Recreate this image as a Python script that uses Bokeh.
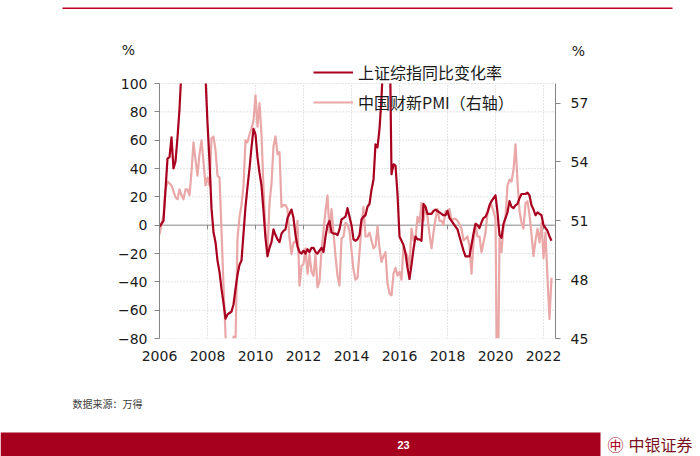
import math
import numpy as np
from bokeh.plotting import figure
from bokeh.models import (Range1d, LinearAxis, FixedTicker, Label, BoxAnnotation,
                          Legend, LegendItem, ColumnDataSource)
from bokeh.embed import file_html
from bokeh.resources import INLINE

# ---------------- data (monthly, Jan 2006 - May 2022) ----------------
start_year = 2006

sse_yoy = [
    -1, 1, 3, 25, 47, 48, 62, 40, 45, 62, 82, 110,          # 2006
    120, 125, 145, 165, 150, 130, 175, 210, 215, 220, 135, 105,  # 2007
    72, 45, 12, -5, -12, -25, -33, -45, -55, -66, -63, -62,  # 2008
    -61, -56, -45, -35, -28, -25, -6, 13, 27, 40, 55, 68,    # 2009
    64, 48, 37, 28, 10, -9, -22, -16, -12, -3, -7, -10,      # 2010
    -12, -6, -4, -3, 5, 8, 11, 5, -7, -15, -19, -20,         # 2011
    -18, -20, -17, -19, -16, -16, -19, -20, -18, -16, -19, -8,  # 2012
    0, 3, -5, -6, -6, -7, -3, 4, 5, 6, 12, 6,                # 2013
    0, -10, -11, -10, -7, 4, 6, 7, 13, 15, 25, 32,           # 2014
    57, 55, 68, 90, 120, 140, 150, 150, 36, 43, 42, 22,      # 2015
    -8, -11, -14, -20, -30, -38, -28, -17, -8, -10, -10, -11,  # 2016
    15, 13, 8, 8, 8, 10, 11, 10, 9, 8, 7, 7,                 # 2017
    10, 5, 3, 1, -1, -3, -8, -13, -18, -22, -22, -22,        # 2018
    -14, -6, 1, 0, -2, 2, 5, 6, 9, 14, 17, 19,               # 2019
    21, 9, -7, -9, 1, 5, 9, 17, 13, 12, 14, 15,              # 2020
    19, 22, 22, 22, 23, 21, 14, 11, 7, 9, 8, 7,              # 2021
    0, -2, -4, -8, -11,                                      # 2022
]

caixin_pmi = [
    50.3, 50.8, 51.3, 52.6, 53.0, 52.9, 52.8, 52.5, 52.2, 52.1, 52.6, 52.3,  # 2006
    52.1, 52.6, 52.6, 52.3, 53.5, 55.0, 54.1, 53.3, 54.4, 55.1, 54.0, 52.8,  # 2007
    53.2, 52.8, 55.2, 55.3, 54.6, 53.3, 53.2, 50.5, 47.7, 45.2, 40.9, 41.2,  # 2008
    42.2, 45.1, 44.8, 50.1, 51.2, 51.8, 52.8, 55.1, 55.0, 55.4, 55.7, 56.1,  # 2009
    57.4, 55.8, 57.0, 55.4, 52.7, 50.4, 49.4, 51.9, 52.9, 54.8, 55.3, 54.4,  # 2010
    54.5, 51.7, 51.8, 51.8, 51.6, 50.1, 49.3, 49.9, 49.9, 51.0, 47.7, 48.7,  # 2011
    48.8, 49.6, 48.3, 49.3, 48.4, 48.2, 49.3, 47.6, 47.9, 49.5, 50.5, 51.5,  # 2012
    52.3, 50.4, 51.6, 50.4, 49.2, 48.2, 47.7, 50.1, 50.2, 50.9, 50.8, 50.5,  # 2013
    49.5, 48.5, 48.0, 48.1, 49.4, 50.7, 51.7, 50.2, 50.2, 50.4, 50.0, 49.6,  # 2014
    49.7, 50.7, 49.6, 48.9, 49.2, 49.4, 47.8, 47.3, 47.2, 48.3, 48.6, 48.2,  # 2015
    48.4, 48.0, 49.7, 49.4, 49.2, 48.6, 50.6, 50.0, 50.1, 51.2, 50.9, 51.9,  # 2016
    51.0, 51.7, 51.2, 50.3, 49.6, 50.4, 51.1, 51.6, 51.0, 51.0, 50.8, 51.5,  # 2017
    51.5, 51.6, 51.0, 51.1, 51.1, 51.0, 50.8, 50.6, 50.0, 50.1, 50.2, 49.7,  # 2018
    48.3, 49.9, 50.8, 50.2, 50.2, 49.4, 49.9, 50.4, 51.4, 51.7, 51.8, 51.5,  # 2019
    51.1, 40.3, 50.1, 49.4, 50.7, 51.2, 52.8, 53.1, 53.0, 53.6, 54.9, 53.0,  # 2020
    51.5, 50.9, 50.6, 51.9, 52.0, 51.3, 50.3, 49.2, 50.0, 50.6, 49.9, 50.9,  # 2021
    49.1, 50.4, 48.1, 46.0, 48.1,                                            # 2022
]

x_ticks = [2006, 2008, 2010, 2012, 2014, 2016, 2018, 2020, 2022]
left_ticks = [-80, -60, -40, -20, 0, 20, 40, 60, 80, 100]
right_ticks = [45, 48, 51, 54, 57]

sse_label = "上证综指同比变化率"
pmi_label = "中国财新PMI（右轴）"
source_text = "数据来源：万得"
page_no = "23"
brand = "中银证券"

# ---------------- layout constants (pixels, page coordinates) ----------------
W = 700
TOP_H = 57                 # header strip: rule + unit labels
MAIN_H = 313               # chart strip (page y 57 .. 370)
FOOT_H = 456 - TOP_H - MAIN_H
PLOT_L, PLOT_R = 159, 555  # plot area left / right
PLOT_T, PLOT_B = 83, 338   # y of 100 and of -80
LEFT_MIN, LEFT_MAX = -80.0, 100.0
RIGHT_MIN, RIGHT_MAX = 45.0, 58.0
X_START, X_END = 2006.0, 2022.5
LEG_ROW_H = 25             # height Bokeh gives one legend row at 16px CJK
LEG_ROW2_Y = 101.7         # page y of the second legend row's centre

K = (LEFT_MAX - LEFT_MIN) / (PLOT_B - PLOT_T)   # value units per px
KR = (RIGHT_MAX - RIGHT_MIN) / (PLOT_B - PLOT_T)


def clip_polyline(xs, ys, lo, hi):
    """Cut a polyline to the band lo..hi, as a chart plot area does."""
    ox, oy = [], []
    prev_vis = False
    for i in range(len(xs) - 1):
        x0, y0, x1, y1 = xs[i], ys[i], xs[i + 1], ys[i + 1]
        d = y1 - y0
        if d == 0:
            t0, t1 = (0.0, 1.0) if lo <= y0 <= hi else (1.0, 0.0)
        else:
            ta, tb = (lo - y0) / d, (hi - y0) / d
            t0, t1 = max(0.0, min(ta, tb)), min(1.0, max(ta, tb))
        if t0 > t1:
            prev_vis = False
            continue
        ax, ay = x0 + t0 * (x1 - x0), y0 + t0 * d
        bx, by = x0 + t1 * (x1 - x0), y0 + t1 * d
        if not (prev_vis and t0 == 0.0):
            if ox and not math.isnan(ox[-1]):
                ox.append(float("nan"))
                oy.append(float("nan"))
            ox.append(ax)
            oy.append(ay)
        ox.append(bx)
        oy.append(by)
        prev_vis = (t1 == 1.0)
    return np.array(ox, dtype=float), np.array(oy, dtype=float)


# ---------------- styling ----------------
DARK = "#A8001E"
LIGHT = "#EAA7A7"
AXIS = "#868686"
GRID = "#C9C9C9"
TXT = "#1a1a1a"
NUM_FONT = "DejaVu Sans"
CJK_FONT = "Noto Sans CJK SC"


def plain_fig(height):
    f = figure(width=W, height=height, output_backend="svg", toolbar_location=None,
               x_range=Range1d(0, W), y_range=Range1d(0, height),
               x_axis_location=None, y_axis_location=None, min_border=0)
    f.outline_line_color = None
    f.grid.visible = False
    return f


# ---------------- header strip ----------------
top = plain_fig(TOP_H)
top.add_layout(BoxAnnotation(left=62, right=672, top=TOP_H - 7, bottom=TOP_H - 8.6,
                             fill_color="#C0001E", fill_alpha=1, line_color=None))
top.add_layout(Label(x=128, y=TOP_H - 49.5, text="%", text_align="center",
                     text_baseline="middle", text_font=NUM_FONT,
                     text_font_size="14px", text_color=TXT))
top.add_layout(Label(x=578, y=TOP_H - 50, text="%", text_align="center",
                     text_baseline="middle", text_font=NUM_FONT,
                     text_font_size="14px", text_color=TXT))

# ---------------- chart strip ----------------
frame_top_val = LEFT_MAX + (PLOT_T - TOP_H) * K
frame_top_right = RIGHT_MAX + (PLOT_T - TOP_H) * KR

months = [start_year + i / 12.0 for i in range(len(sse_yoy))]
sx, sy = clip_polyline(months, sse_yoy, LEFT_MIN, LEFT_MAX)
px_, py_ = clip_polyline(months, caixin_pmi, RIGHT_MIN, RIGHT_MAX)

p = figure(width=W, height=MAIN_H, output_backend="svg", toolbar_location=None,
           x_range=Range1d(X_START, X_END), y_range=Range1d(LEFT_MIN, frame_top_val),
           x_axis_location=None, y_axis_location=None,
           min_border_left=PLOT_L, min_border_right=W - PLOT_R,
           min_border_top=0, min_border_bottom=MAIN_H - (PLOT_B - TOP_H))
p.extra_y_ranges = {"pmi": Range1d(RIGHT_MIN, frame_top_right)}
p.outline_line_color = None
p.grid.visible = False
p.background_fill_color = "white"
p.border_fill_color = "white"

# dotted grid limited to the plot area
hgrid = [t for t in left_ticks if t != 0]
p.segment(x0=[X_START] * len(hgrid), x1=[X_END] * len(hgrid), y0=hgrid, y1=hgrid,
          line_color=GRID, line_width=1, line_dash="1 2")
vgrid = x_ticks[1:]
p.segment(x0=vgrid, x1=vgrid, y0=[LEFT_MIN] * len(vgrid), y1=[LEFT_MAX] * len(vgrid),
          line_color=GRID, line_width=1, line_dash="1 2")

# zero line with small ticks
p.segment(x0=[X_START], x1=[X_END], y0=[0], y1=[0], line_color=AXIS, line_width=1)
p.segment(x0=vgrid, x1=vgrid, y0=[0] * len(vgrid), y1=[-4 * K] * len(vgrid),
          line_color=AXIS, line_width=1)

# axes
la = LinearAxis(bounds=(LEFT_MIN, LEFT_MAX), ticker=FixedTicker(ticks=left_ticks))
ra = LinearAxis(y_range_name="pmi", bounds=(RIGHT_MIN, RIGHT_MAX),
                ticker=FixedTicker(ticks=right_ticks))
for ax in (la, ra):
    ax.axis_line_color = AXIS
    ax.major_tick_line_color = AXIS
    ax.minor_tick_line_color = None
    ax.major_tick_out = 5
    ax.major_tick_in = 0
    ax.major_label_text_font = NUM_FONT
    ax.major_label_text_font_size = "14px"
    ax.major_label_text_color = TXT
la.major_label_standoff = 7
ra.major_label_standoff = 10
p.add_layout(la, "left")
p.add_layout(ra, "right")

ba = LinearAxis(bounds=(X_START, X_END), ticker=FixedTicker(ticks=x_ticks))
ba.axis_line_color = None
ba.major_tick_line_color = None
ba.minor_tick_line_color = None
ba.major_tick_out = 0
ba.major_tick_in = 0
ba.major_label_standoff = 12
ba.major_label_text_font = NUM_FONT
ba.major_label_text_font_size = "14px"
ba.major_label_text_color = TXT
p.add_layout(ba, "below")

# series
src_p = ColumnDataSource(dict(x=px_, y=py_))
src_s = ColumnDataSource(dict(x=sx, y=sy))
r_pmi = p.line("x", "y", source=src_p, y_range_name="pmi", line_color=LIGHT,
               line_width=2.2, line_join="round")
r_sse = p.line("x", "y", source=src_s, line_color=DARK, line_width=2.2, line_join="round")

legend = Legend(items=[LegendItem(label=sse_label, renderers=[r_sse]),
                       LegendItem(label=pmi_label, renderers=[r_pmi])],
                location=(313 - PLOT_L, PLOT_B - (LEG_ROW2_Y + LEG_ROW_H / 2)),
                orientation="vertical",
                glyph_width=40, glyph_height=20, label_height=20, spacing=6,
                padding=0, margin=0, label_standoff=5,
                background_fill_alpha=0, border_line_alpha=0,
                label_text_font=CJK_FONT, label_text_font_size="16px",
                label_text_color=TXT)
p.add_layout(legend)

# ---------------- footer strip ----------------
foot = plain_fig(FOOT_H)
base = TOP_H + MAIN_H          # page y of the footer's top edge
foot.add_layout(Label(x=72, y=FOOT_H - (403 - base), text=source_text, text_align="left",
                      text_baseline="middle", text_font=CJK_FONT, text_font_size="10px",
                      text_color="#404040"))
foot.add_layout(BoxAnnotation(left=0, right=600, bottom=0, top=24,
                              fill_color="#A6001E", fill_alpha=1, line_color=None))
foot.add_layout(Label(x=403, y=12, text=page_no, text_align="center", text_baseline="middle",
                      text_font="Liberation Sans", text_font_size="11px",
                      text_font_style="bold", text_color="white"))
foot.add_layout(Label(x=607, y=12.5, text="㊥", text_align="left", text_baseline="middle",
                      text_font=CJK_FONT, text_font_size="16px", text_color=DARK))
foot.add_layout(Label(x=628, y=12.5, text=brand, text_align="left", text_baseline="middle",
                      text_font=CJK_FONT, text_font_size="16px", text_color="#7A1020"))

open("out.html", "w").write(file_html([top, p, foot], INLINE))
